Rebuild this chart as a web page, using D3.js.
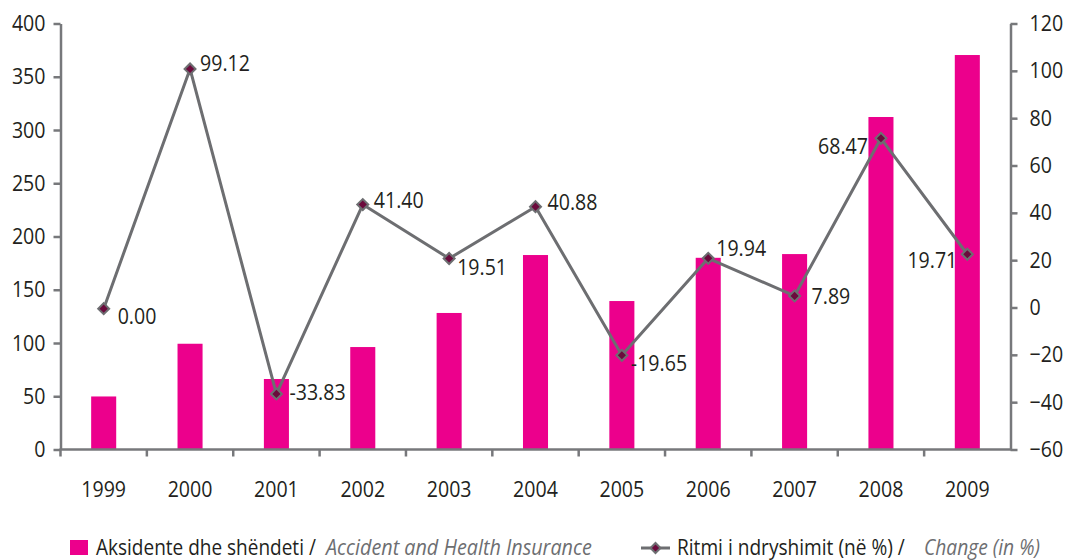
<!DOCTYPE html>
<html>
<head>
<meta charset="utf-8">
<script src="https://cdn.jsdelivr.net/npm/d3@7"></script>
<style>
  html, body { margin: 0; padding: 0; background: #fff; }
  svg { display: block; }
  text { font-family: "Open Sans", "Noto Sans", sans-serif; }
</style>
</head>
<body>
<svg id="chart" width="1068" height="560"></svg>
<script>
// ---- data ----
const years = ["1999","2000","2001","2002","2003","2004","2005","2006","2007","2008","2009"];
const insurance = [49.8, 99.3, 66.2, 96.2, 128.2, 182.6, 139.4, 180.0, 183.5, 312.2, 370.4];
const change = [-0.5, 100.8, -36.5, 43.5, 20.7, 42.6, -20.2, 20.8, 4.9, 71.5, 22.5];
const changeLabels = ["0.00","99.12","-33.83","41.40","19.51","40.88","-19.65","19.94","7.89","68.47","19.71"];
const leftTicks = [0, 50, 100, 150, 200, 250, 300, 350, 400];
const rightTicks = [-60, -40, -20, 0, 20, 40, 60, 80, 100, 120];
const legendBar = ["Aksidente dhe shëndeti /", "Accident and Health Insurance"];
const legendLine = ["Ritmi i ndryshimit (në %) /", "Change (in %)"];

// ---- layout ----
const svg = d3.select("#chart");
const L = 60.5, R = 1010.5, T = 23.5, B = 449.5;
const axisColor = "#77787b", textColor = "#231f20", italicColor = "#6d6e71";
const barColor = "#ec008c", lineColor = "#6d6e71", markerFill = "#6b0a3c";
const FS = 22, CONDENSE = 0.89;

function condense(sel, f) {
  sel.each(function () {
    const w = this.getComputedTextLength();
    d3.select(this).attr("textLength", w * f).attr("lengthAdjust", "spacingAndGlyphs");
  });
}

const x = d3.scaleBand().domain(years).range([L, R]).padding(0);
const yL = d3.scaleLinear().domain([0, 400]).range([B, T]);
const yR = d3.scaleLinear().domain([-60, 120]).range([B, T]);
const barW = x.bandwidth() * 0.29;

// bars
svg.append("g").selectAll("rect").data(years).join("rect")
  .attr("x", (d) => x(d) + x.bandwidth() / 2 - barW / 2)
  .attr("width", barW)
  .attr("y", (d, i) => yL(insurance[i]))
  .attr("height", (d, i) => B - yL(insurance[i]))
  .attr("fill", barColor);

// axes
function styleAxis(g) {
  g.selectAll("path.domain").attr("stroke", axisColor).attr("stroke-width", 2.5);
  g.selectAll(".tick line").attr("stroke", axisColor).attr("stroke-width", 2.5);
  g.selectAll(".tick text").attr("fill", textColor).style("font-size", FS + "px").call(condense, CONDENSE);
}
const gL = svg.append("g").attr("transform", `translate(${L},0)`)
  .call(d3.axisLeft(yL).tickValues(leftTicks).tickSize(7).tickSizeOuter(0).tickPadding(8).tickFormat(d3.format("d")));
styleAxis(gL);
const gR = svg.append("g").attr("transform", `translate(${R},0)`)
  .call(d3.axisRight(yR).tickValues(rightTicks).tickSize(7).tickSizeOuter(0).tickPadding(12).tickFormat(d3.format("d")));
styleAxis(gR);

// x axis: ticks at band boundaries, labels at centers
const xBound = d3.scaleLinear().domain([0, years.length]).range([L, R]);
const gX = svg.append("g").attr("transform", `translate(0,${B})`);
gX.append("line").attr("x1", L - 1).attr("x2", R + 1).attr("y1", 0).attr("y2", 0)
  .attr("stroke", axisColor).attr("stroke-width", 2.5);
gX.selectAll("line.tk").data(d3.range(years.length)).join("line").attr("class", "tk")
  .attr("x1", (d) => xBound(d)).attr("x2", (d) => xBound(d))
  .attr("y1", 0).attr("y2", 7).attr("stroke", axisColor).attr("stroke-width", 2.5);
gX.selectAll("text").data(years).join("text")
  .attr("x", (d) => x(d) + x.bandwidth() / 2)
  .attr("y", 47)
  .attr("text-anchor", "middle")
  .attr("fill", textColor).style("font-size", FS + "px")
  .text((d) => d)
  .call(condense, CONDENSE);

// line
const cx = (i) => x(years[i]) + x.bandwidth() / 2;
const line = d3.line().x((d, i) => cx(i)).y((d) => yR(d));
svg.append("path").datum(change).attr("d", line)
  .attr("fill", "none").attr("stroke", lineColor).attr("stroke-width", 3).attr("stroke-linejoin", "round");

svg.append("g").selectAll("path").data(change).join("path")
  .attr("d", d3.symbol().type(d3.symbolSquare).size(60))
  .attr("transform", (d, i) => `translate(${cx(i)},${yR(d)}) rotate(45)`)
  .attr("fill", markerFill).attr("stroke", lineColor).attr("stroke-width", 2);

// data labels (offsets relative to marker)
const labelOffsets = [[14, 8], [10, -6], [13, -2], [11, -4], [8, 9], [12, -4], [9, 8], [8, -10], [17, 0], [-13, 8], [-10, 6]];
svg.append("g").selectAll("text").data(changeLabels).join("text")
  .attr("x", (d, i) => cx(i) + labelOffsets[i][0])
  .attr("y", (d, i) => yR(change[i]) + labelOffsets[i][1])
  .attr("dy", "0.35em")
  .attr("text-anchor", (d, i) => labelOffsets[i][0] < 0 ? "end" : "start")
  .attr("fill", textColor).style("font-size", FS + "px")
  .text((d) => d)
  .call(condense, CONDENSE);

// legend (each text horizontally scaled to its target width)
const lg = svg.append("g");
const LFS = 22, LY = 555;
function legendText(parts, xs, widths) {
  parts.forEach((p, k) => {
    const g = lg.append("g");
    const t = g.append("text").attr("x", 0).attr("y", 0).style("font-size", LFS + "px")
      .style("font-style", k === 1 ? "italic" : "normal")
      .attr("fill", k === 1 ? italicColor : textColor)
      .text(p);
    const w = t.node().getComputedTextLength();
    g.attr("transform", `translate(${xs[k]},${LY}) scale(${widths[k] / w},1)`);
  });
}
lg.append("rect").attr("x", 70).attr("y", 540).attr("width", 18).attr("height", 15).attr("fill", barColor);
legendText(legendBar, [96, 326], [220, 266]);

lg.append("line").attr("x1", 641).attr("x2", 670).attr("y1", 548).attr("y2", 548)
  .attr("stroke", lineColor).attr("stroke-width", 3);
lg.append("path").attr("d", d3.symbol().type(d3.symbolSquare).size(50))
  .attr("transform", "translate(655.5,548) rotate(45)")
  .attr("fill", markerFill).attr("stroke", lineColor).attr("stroke-width", 2);
legendText(legendLine, [677, 924], [228, 116]);
</script>
</body>
</html>
